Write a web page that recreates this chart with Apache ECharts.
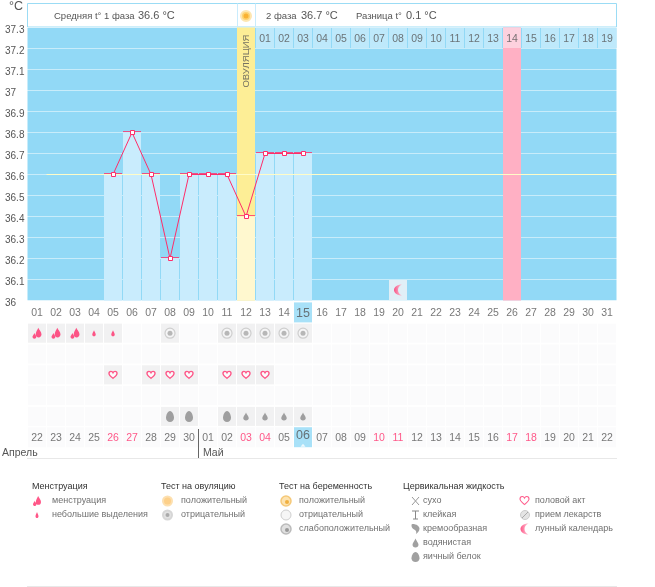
<!DOCTYPE html>
<html>
<head>
<meta charset="utf-8"/>
<style>
html, body { margin: 0; padding: 0; height: 100%; background: #fff; }
#main { width: 655px; height: 587px; }
</style>
<script src="https://cdn.jsdelivr.net/npm/echarts@6/dist/echarts.min.js"></script>
</head>
<body>
<div id="main"></div>
<script type="text/javascript">
// день цикла -> дата
var days = ['01','02','03','04','05','06','07','08','09','10','11','12','13','14','15','16','17','18','19','20','21','22','23','24','25','26','27','28','29','30','31'];
var dates = ['22','23','24','25','26','27','28','29','30','01','02','03','04','05','06','07','08','09','10','11','12','13','14','15','16','17','18','19','20','21','22'];
var redDates = [4,5,11,12,18,19,25,26];
var temps = [null,null,null,null,36.6,36.8,36.6,36.2,36.6,36.6,36.6,36.4,36.7,36.7,36.7,null,null,null,null,null,null,null,null,null,null,null,null,null,null,null,null];
var phase2Days = ['01','02','03','04','05','06','07','08','09','10','11','12','13','14','15','16','17','18','19'];
var avgTemp = 36.6;
var ovulationDay = 12;
var peakDay = 26;
var moonDay = 20;
var todayDay = 15;
var heavyDays = [1,2,3];
var lightDays = [4,5];
var ovTestDays = [8,11,12,13,14,15];
var sexDays = [5,7,8,9,11,12,13];
var eggDays = [8,9,11];
var waterDays = [12,13,14,15];

var FONT = '"Liberation Sans", Arial, sans-serif';
var GREY = '#555';
var RED = '#ff2d6a';
var TOPVAL = 37.3;
var MOON_FILL = { type: 'linear', x: 0, y: 0, x2: 1, y2: 0, colorStops: [{ offset: 0, color: RED }, { offset: 1, color: '#ffc0d2' }] };

var P_DROP = 'path://M5 0C6 4 10 8 10 12C10 15 8 17 5 17C2 17 0 15 0 12C0 8 4 4 5 0Z';
var P_EGG = 'path://M5 0C8 0 10 5 10 8C10 11 8 13 5 13C2 13 0 11 0 8C0 5 2 0 5 0Z';
var P_FLAME = 'path://M10 0C11 3 15 6 15 10C15 13 13 15 10.5 15C8 15 6 13 6 10C6 6 9 3 10 0ZM4 8C4.6 10 7 12 7 14C7 16 5.5 17 4 17C2.5 17 1 16 1 14C1 12 3.4 10 4 8Z';
var P_HEART = 'path://M5 9C2 6.5 0 5 0 2.8C0 1 1.2 0 2.5 0C3.6 0 4.5 0.7 5 1.8C5.5 0.7 6.4 0 7.5 0C8.8 0 10 1 10 2.8C10 5 8 6.5 5 9Z';
var P_MOON = 'path://M8 0C3 0 0 3.5 0 7C0 10.5 3 14 8 14C5.5 12.5 4 10 4 7C4 4 5.5 1.5 8 0Z';
var P_COMMA = 'path://M1 0C6 0 9 3 9 6C9 9 7 12 5 13C6 10 5 8 3 7C1 6 0 4 0 2C0 1 0 0 1 0Z';

function idx(list) { return list.map(function (d) { return d - 1; }); }
function cellData(list, row) { return idx(list).map(function (i) { return [i, row]; }); }

var emptyCells = [];
var ROW_NUM = 0, ROW_MENS = 1, ROW_SEX = 3, ROW_FLUID = 5, ROW_DATE = 6;
days.forEach(function (d, i) {
    for (var r = 1; r <= 5; r++) emptyCells.push([i, r]);
});

var dayRow = days.map(function (d, i) {
    var today = i + 1 === todayDay;
    return {
        value: [i, ROW_NUM],
        itemStyle: { color: today ? '#92d9f6' : 'rgba(0,0,0,0)' },
        label: { show: true, formatter: d, fontSize: today ? 12.5 : 10.5, color: GREY, fontFamily: FONT, offset: [0, 1] }
    };
});
var dateRow = dates.map(function (d, i) {
    var today = i + 1 === todayDay;
    return {
        value: [i, ROW_DATE],
        itemStyle: { color: today ? '#92d9f6' : '#fafafb' },
        label: { show: true, formatter: d, fontSize: today ? 12.5 : 10.5, fontFamily: FONT, offset: [0, today ? -2 : 1],
            color: redDates.indexOf(i) >= 0 ? RED : GREY }
    };
});

// верхний ряд - дни второй фазы
var topRow = phase2Days.map(function (d, i) {
    var at = ovulationDay + i;
    return {
        value: [at, 37.25],
        itemStyle: { color: at + 1 === peakDay ? '#fdd9e5' : '#c9ecfd' },
        label: { show: true, formatter: d, fontSize: 10.5, color: GREY, fontFamily: FONT, offset: [0, 1] }
    };
});

var ovBar = days.map(function (d, i) { return i + 1 === ovulationDay ? { value: TOPVAL, itemStyle: { color: '#fdee96' } } : (i + 1 === peakDay ? { value: TOPVAL, itemStyle: { color: '#ffb0c4' } } : null); });
var tempBar = temps.map(function (t, i) {
    if (t === null) return null;
    return { value: t, itemStyle: { color: i + 1 === ovulationDay ? '#fff8cf' : '#c9ecfd' } };
});
var capData = temps.map(function (t, i) { return t === null ? null : [i, t]; }).filter(Boolean);

// легенда
var graphics = [];
var iconSeries = [];
function txt(x, y, s, color, size) {
    graphics.push({ type: 'text', x: x, y: y, silent: true, style: {
        text: s, fill: color || '#707070', font: (size || 9) + 'px ' + FONT, textVerticalAlign: 'middle' } });
}
function head(x, y, s) { txt(x, y, s, '#333', 9); }
function circ(cx, cy, r, fill, stroke, lw) {
    graphics.push({ type: 'circle', silent: true, shape: { cx: cx, cy: cy, r: r }, style: { fill: fill, stroke: stroke || null, lineWidth: lw || 1 } });
}
function icon(path, cx, cy, w, h, fill, stroke) {
    iconSeries.push({ type: 'scatter', xAxisIndex: 3, yAxisIndex: 2, data: [[cx, cy]], symbol: path, symbolSize: [w, h],
        itemStyle: { color: fill, borderColor: stroke || null, borderWidth: stroke ? 1 : 0 }, silent: true, z: 4 });
}
function line(x1, y1, x2, y2, color) {
    graphics.push({ type: 'line', silent: true, shape: { x1: x1, y1: y1, x2: x2, y2: y2 }, style: { stroke: color, lineWidth: 1 } });
}

// шапка
graphics.push({ type: 'rect', silent: true, shape: { x: 27.5, y: 3.5, width: 589, height: 23.5 }, style: { fill: '#fff', stroke: '#9bdcf5', lineWidth: 1 } });
line(237.5, 3.5, 237.5, 27, '#c9ecfd');
line(255.5, 3.5, 255.5, 27, '#c9ecfd');
circ(246, 16, 5, '#fdd26e', '#fde6b0', 2);
circ(246, 16, 2.5, '#f9b233');
txt(9, 7, '°C', GREY, 12.5);
txt(54, 16, 'Средняя t° 1 фаза', GREY, 9.5);
txt(138, 16, '36.6 °C', GREY, 11);
txt(266, 16, '2 фаза', GREY, 9.5);
txt(301, 16, '36.7 °C', GREY, 11);
txt(356, 16, 'Разница t°', GREY, 9.5);
txt(406, 16, '0.1 °C', GREY, 11);

// месяцы
txt(2, 453, 'Апрель', GREY, 10.5);
txt(203, 453, 'Май', GREY, 10.5);
line(198.5, 429, 198.5, 458, '#666');
line(27, 458.5, 617, 458.5, '#e8e8e8');
line(27, 586.5, 617, 586.5, '#e8e8e8');

head(32, 487, 'Менструация');
icon(P_FLAME, 37, 501, 8, 10, RED);
txt(52, 501, 'менструация');
icon(P_DROP, 37, 515, 3, 6, RED);
txt(52, 515, 'небольшие выделения');

head(161, 487, 'Тест на овуляцию');
circ(167.5, 501, 4.5, '#fdd08a', '#fde0b0', 2);
txt(181, 501, 'положительный');
circ(167.5, 515, 4.5, '#e2e2e2', '#d6d6d6', 2);
circ(167.5, 515, 2, '#aaa');
txt(181, 515, 'отрицательный');

head(279, 487, 'Тест на беременность');
circ(286, 501, 5, '#fde3b0', '#f5c878', 1.5);
circ(287, 502, 2, '#f0b040');
txt(299, 501, 'положительный');
circ(286, 515, 5, '#f6f6f6', '#cfcfcf', 1);
txt(299, 515, 'отрицательный');
circ(286, 529, 5, '#e0e0e0', '#bbb', 1.5);
circ(287, 530, 2, '#999');
txt(299, 529, 'слабоположительный');

head(403, 487, 'Цервикальная жидкость');
line(412, 497, 419, 505, '#999');
line(419, 497, 412, 505, '#999');
txt(423, 501, 'сухо');
line(412, 511, 419, 511, '#888');
line(415.5, 511, 415.5, 519, '#888');
line(413, 519, 418, 519, '#888');
txt(423, 515, 'клейкая');
icon(P_COMMA, 415.5, 529, 8, 10, '#888');
txt(423, 529, 'кремообразная');
icon(P_DROP, 415.5, 543, 6, 9, '#888');
txt(423, 543, 'водянистая');
icon(P_EGG, 415.5, 557, 8, 10, '#888');
txt(423, 557, 'яичный белок');

icon(P_HEART, 524.5, 500.5, 9, 8, '#fff', RED);
txt(535, 501, 'половой акт');
circ(525, 515, 4.5, '#e4e4e4', '#ccc', 1);
line(522, 518, 528, 512, '#aaa');
txt(535, 515, 'прием лекарств');
icon(P_MOON, 524.5, 529, 8, 11, MOON_FILL);
txt(535, 529, 'лунный календарь');

var plain = { show: false };

var option = {
    animation: false,
    backgroundColor: '#fff',
    textStyle: { fontFamily: FONT },
    graphic: graphics,
    grid: [
        { left: 27.5, top: 27.5, width: 589, height: 273, show: true, backgroundColor: '#92d9f6', borderWidth: 0 },
        { left: 27.5, top: 302, width: 589, height: 145.6, show: false },
        { left: 0, top: 0, width: 655, height: 587, show: false }
    ],
    xAxis: [
        { type: 'category', gridIndex: 0, data: days, axisLine: plain, axisTick: plain, axisLabel: plain, splitLine: plain },
        { type: 'category', gridIndex: 1, data: days, axisLine: plain, axisTick: plain, axisLabel: plain, splitLine: plain },
        { type: 'value', gridIndex: 0, min: 0, max: 31, show: false, splitLine: plain },
        { type: 'value', gridIndex: 2, min: 0, max: 655, show: false, splitLine: plain }
    ],
    yAxis: [
        { type: 'value', gridIndex: 0, min: 36, max: TOPVAL, interval: 0.1,
          axisLine: plain, axisTick: plain,
          axisLabel: { show: true, color: GREY, fontSize: 10, fontFamily: FONT, align: 'left', margin: 22.5, verticalAlign: 'top', lineHeight: 6, showMinLabel: true, showMaxLabel: true },
          splitLine: { show: true, lineStyle: { color: '#fff', type: [1, 1], width: 1 } } },
        { type: 'category', gridIndex: 1, inverse: true, data: ['0','1','2','3','4','5','6'], axisLine: plain, axisTick: plain, axisLabel: plain, splitLine: plain },
        { type: 'value', gridIndex: 2, inverse: true, min: 0, max: 587, show: false, splitLine: plain }
    ],
    series: [
        { name: 'ovulation', type: 'bar', data: ovBar, barWidth: 18, barGap: '-100%', silent: true, z: 2 },
        { name: 'temp bars', type: 'bar', data: tempBar, barWidth: 18, barGap: '-100%', silent: true, z: 3 },
        { name: 'top row', type: 'scatter', data: topRow, symbol: 'rect', symbolSize: [18, 20], silent: true, z: 4 },
        { name: 'ovulation label', type: 'scatter', data: [[ovulationDay - 1, 37.14]], symbolSize: 0, silent: true, z: 5,
          label: { show: true, formatter: 'ОВУЛЯЦИЯ', rotate: 90, color: '#555', fontSize: 9.5, fontFamily: FONT, position: 'inside' } },
        { name: 'moon cell', type: 'scatter', data: [[moonDay - 1, 36.05]], symbol: 'rect', symbolSize: [18, 20], itemStyle: { color: '#f4f4f7' }, silent: true, z: 4 },
        { name: 'moon', type: 'scatter', data: [[moonDay - 1, 36.05]], symbol: P_MOON, symbolSize: [8, 11], itemStyle: { color: MOON_FILL }, silent: true, z: 5 },
        { name: 'avg', type: 'line', xAxisIndex: 2, data: [[1, avgTemp], [31, avgTemp]], symbol: 'none', lineStyle: { color: '#fffcc8', width: 1 }, silent: true, z: 5 },
        { name: 'caps', type: 'scatter', data: capData, symbol: 'rect', symbolSize: [18, 1], symbolOffset: [0, -1], itemStyle: { color: RED }, silent: true, z: 6 },
        { name: 'temperature', type: 'line', data: temps, symbol: 'rect', symbolSize: 4, symbolOffset: [0.5, 0], showAllSymbol: true,
          lineStyle: { color: RED, width: 1 }, itemStyle: { color: '#fff', borderColor: RED, borderWidth: 1 }, silent: true, z: 7 },

        { name: 'cells', type: 'scatter', xAxisIndex: 1, yAxisIndex: 1, data: emptyCells, symbol: 'rect', symbolSize: [18, 19], itemStyle: { color: '#fafafb' }, silent: true, z: 2 },
        { name: 'active cells', type: 'scatter', xAxisIndex: 1, yAxisIndex: 1, symbol: 'rect', symbolSize: [18, 19], itemStyle: { color: '#efefef' }, silent: true, z: 3,
          data: cellData(heavyDays.concat(lightDays).concat(ovTestDays), ROW_MENS).concat(cellData(sexDays, ROW_SEX)).concat(cellData(eggDays.concat(waterDays), ROW_FLUID)) },
        { name: 'day numbers', type: 'scatter', xAxisIndex: 1, yAxisIndex: 1, data: dayRow, symbol: 'rect', symbolSize: [18, 20], silent: true, z: 3 },
        { name: 'dates', type: 'scatter', xAxisIndex: 1, yAxisIndex: 1, data: dateRow, symbol: 'rect', symbolSize: [18, 20], silent: true, z: 3 },
        { name: 'today mark', type: 'scatter', xAxisIndex: 1, yAxisIndex: 1, data: [[todayDay - 1, ROW_DATE]], symbol: 'triangle', symbolSize: [5, 3], symbolOffset: [0, 8], itemStyle: { color: '#fff' }, silent: true, z: 4 },
        { name: 'heavy', type: 'scatter', xAxisIndex: 1, yAxisIndex: 1, data: cellData(heavyDays, ROW_MENS), symbol: P_FLAME, symbolSize: [9, 11], itemStyle: { color: RED }, silent: true, z: 4 },
        { name: 'light', type: 'scatter', xAxisIndex: 1, yAxisIndex: 1, data: cellData(lightDays, ROW_MENS), symbol: P_DROP, symbolSize: [3.5, 6], itemStyle: { color: RED }, silent: true, z: 4 },
        { name: 'ov test ring', type: 'scatter', xAxisIndex: 1, yAxisIndex: 1, data: cellData(ovTestDays, ROW_MENS), symbol: 'circle', symbolSize: 10, itemStyle: { color: '#f6f6f6', borderColor: '#c4c4c4', borderWidth: 1.2 }, silent: true, z: 4 },
        { name: 'ov test core', type: 'scatter', xAxisIndex: 1, yAxisIndex: 1, data: cellData(ovTestDays, ROW_MENS), symbol: 'circle', symbolSize: 5, itemStyle: { color: '#a8a8a8' }, silent: true, z: 5 },
        { name: 'sex', type: 'scatter', xAxisIndex: 1, yAxisIndex: 1, data: cellData(sexDays, ROW_SEX), symbol: P_HEART, symbolSize: [8, 7], itemStyle: { color: '#fff', borderColor: RED, borderWidth: 1.3 }, silent: true, z: 4 },
        { name: 'egg white', type: 'scatter', xAxisIndex: 1, yAxisIndex: 1, data: cellData(eggDays, ROW_FLUID), symbol: P_EGG, symbolSize: [8, 11], itemStyle: { color: '#8a8a8a' }, silent: true, z: 4 },
        { name: 'watery', type: 'scatter', xAxisIndex: 1, yAxisIndex: 1, data: cellData(waterDays, ROW_FLUID), symbol: P_DROP, symbolSize: [5.5, 8], itemStyle: { color: '#8a8a8a' }, silent: true, z: 4 }
    ].concat(iconSeries)
};

var myChart = echarts.init(document.getElementById('main'), null, { renderer: 'canvas' });
myChart.setOption(option);
</script>
</body>
</html>
